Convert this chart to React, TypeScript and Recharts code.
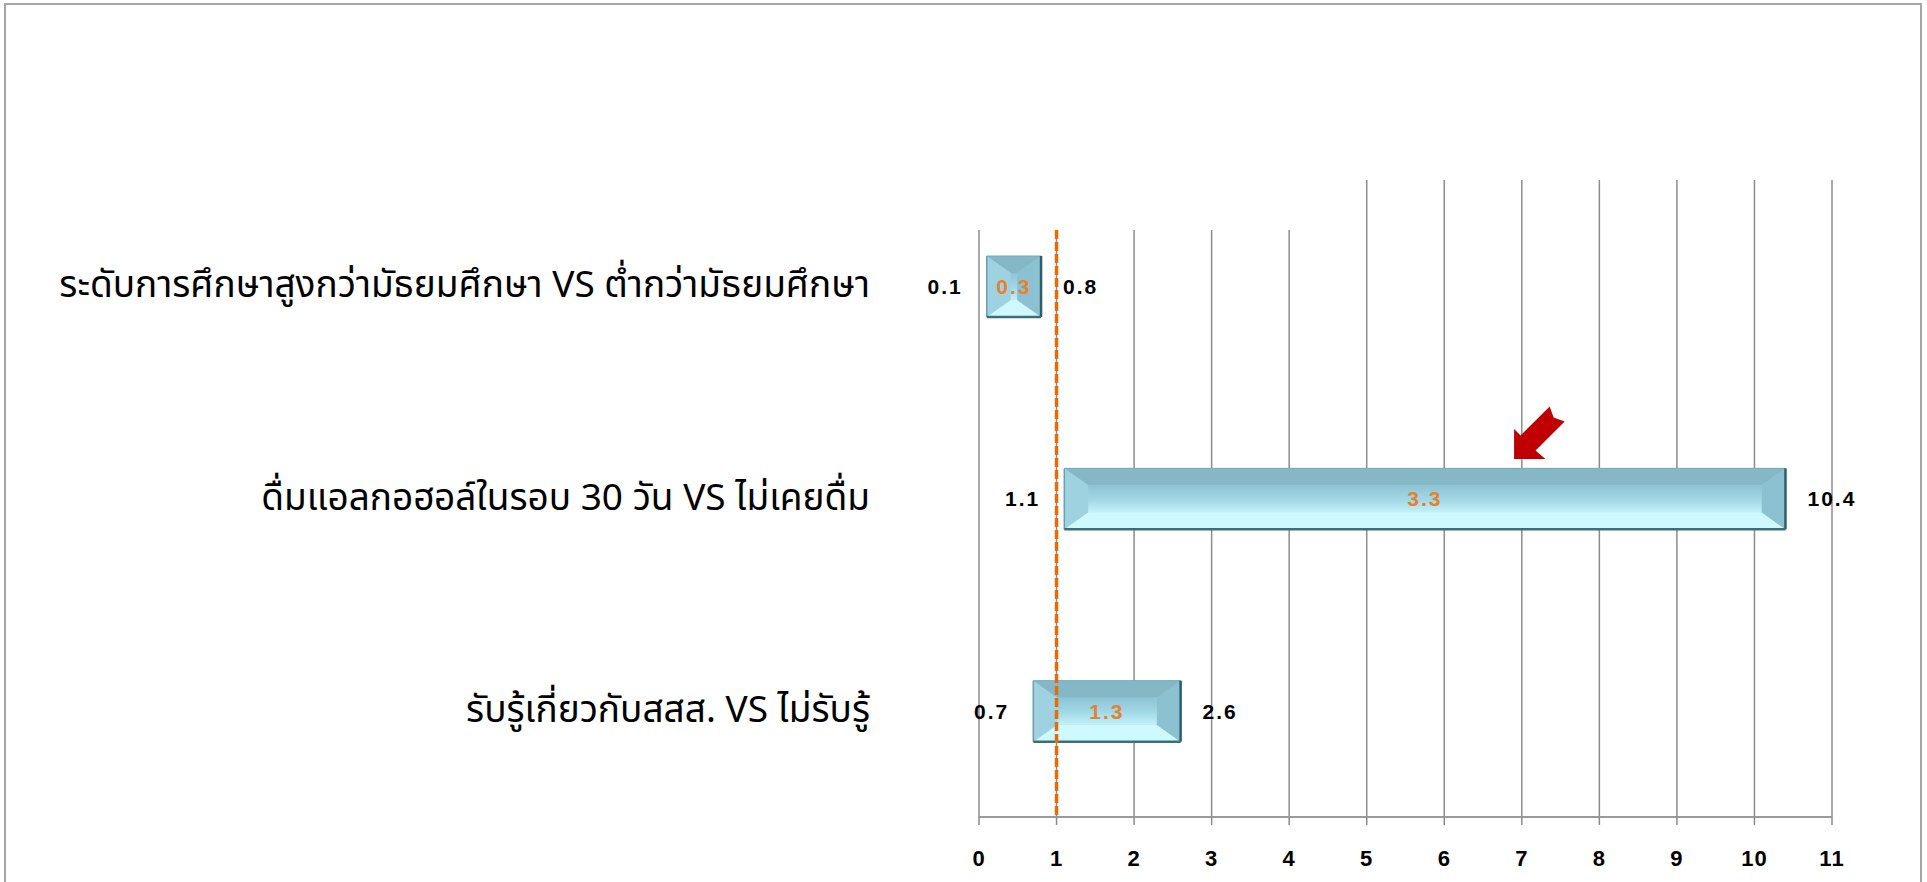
import React from 'react';
import {
  BarChart,
  Bar,
  XAxis,
  YAxis,
  CartesianGrid,
  ReferenceLine,
  ReferenceDot,
  LabelList,
} from 'recharts';

// Comparison groups (top to bottom)
const categories = [
  'ระดับการศึกษาสูงกว่ามัธยมศึกษา VS ต่ำกว่ามัธยมศึกษา',
  'ดื่มแอลกอฮอล์ในรอบ 30 วัน VS ไม่เคยดื่ม',
  'รับรู้เกี่ยวกับสสส. VS ไม่รับรู้',
];

// Odds ratio with lower / upper confidence bounds
const lowerBound = [0.1, 1.1, 0.7];
const oddsRatio = [0.3, 3.3, 1.3];
const upperBound = [0.8, 10.4, 2.6];

// Axis ticks
const xTicks = [0, 1, 2, 3, 4, 5, 6, 7, 8, 9, 10, 11];

// Reference (no effect) value and the highlighted group's arrow position
const REFERENCE_VALUE = 1;
const ARROW_VALUE = 6.9;
const ARROW_CATEGORY = categories[1];

const data = categories.map((name, i) => ({
  name,
  range: [lowerBound[i], upperBound[i]],
  lo: lowerBound[i],
  or: oddsRatio[i],
  hi: upperBound[i],
}));

const WIDTH = 1927;
const HEIGHT = 882;
const BAR_SIZE = 61;
const SHORT_LINE_INSET = 50; // first gridlines and reference line start lower
const NUM_FONT = '"Liberation Sans", Arial, Helvetica, sans-serif';
const THAI_FONT = '"Noto Sans Thai", "Noto Sans", "DejaVu Sans", Tahoma, sans-serif';

const BevelBar = (props: any) => {
  const { x, y, width, height, index } = props;
  if (width == null || height == null || width <= 0) return null;
  const w = width;
  const h = height;
  const i = Math.min(w / 2, 24);
  const iv = Math.min(h / 2, 17);
  const gid = `bevel-face-${index}`;
  return (
    <g>
      <defs>
        <linearGradient id={gid} x1="0" y1="0" x2="0" y2="1">
          <stop offset="0%" stopColor="#8ec3d3" />
          <stop offset="55%" stopColor="#a3d9e7" />
          <stop offset="100%" stopColor="#c2f1f9" />
        </linearGradient>
      </defs>
      <rect x={x} y={y} width={w} height={h} fill={`url(#${gid})`} />
      {/* top bevel */}
      <polygon
        points={`${x},${y} ${x + w},${y} ${x + w - i},${y + iv} ${x + i},${y + iv}`}
        fill="#84b8c7"
      />
      {/* bottom bevel */}
      <polygon
        points={`${x},${y + h} ${x + w},${y + h} ${x + w - i},${y + h - iv} ${x + i},${y + h - iv}`}
        fill="#cefaff"
      />
      {/* left bevel */}
      <polygon
        points={`${x},${y} ${x + i},${y + iv} ${x + i},${y + h - iv} ${x},${y + h}`}
        fill="#9fd2e0"
      />
      {/* right bevel */}
      <polygon
        points={`${x + w},${y} ${x + w - i},${y + iv} ${x + w - i},${y + h - iv} ${x + w},${y + h}`}
        fill="#8cc1d1"
      />
      {/* inner face */}
      <rect x={x + i} y={y + iv} width={Math.max(0, w - 2 * i)} height={Math.max(0, h - 2 * iv)} fill={`url(#${gid})`} />
      {/* edges */}
      <line x1={x} y1={y} x2={x + w} y2={y} stroke="#78aaba" strokeWidth={1} />
      <line x1={x} y1={y} x2={x} y2={y + h} stroke="#6c9fae" strokeWidth={1.5} />
      <line x1={x + w} y1={y} x2={x + w} y2={y + h} stroke="#2f5d6b" strokeWidth={2.5} />
      <line x1={x} y1={y + h} x2={x + w} y2={y + h} stroke="#3c6e7c" strokeWidth={2.5} />
    </g>
  );
};

const ValueLabels = (props: any) => {
  const { x, y, width, height, index } = props;
  const d = data[index];
  if (!d) return null;
  const cy = y + height / 2;
  const common = {
    fontFamily: NUM_FONT,
    fontWeight: 700 as const,
    fontSize: 21,
    letterSpacing: 2,
    dominantBaseline: 'central' as const,
  };
  return (
    <g>
      <text x={x - 24} y={cy} textAnchor="end" fill="#000" {...common}>
        {d.lo}
      </text>
      <text x={x + width / 2} y={cy} textAnchor="middle" fill="#e3822f" {...common}>
        {d.or}
      </text>
      <text x={x + width + 22} y={cy} textAnchor="start" fill="#000" {...common}>
        {d.hi}
      </text>
    </g>
  );
};

const CategoryTick = (props: any) => {
  const { x, y, payload } = props;
  return (
    <text
      x={x}
      y={y}
      textAnchor="end"
      dominantBaseline="central"
      fill="#000"
      fontFamily={THAI_FONT}
      fontSize={37}
    >
      {payload.value}
    </text>
  );
};

const GridLine = (props: any) => {
  const { x1, y1, x2, y2, index } = props;
  const top = Math.min(y1, y2);
  const bottom = Math.max(y1, y2);
  const start = index < 5 ? top + SHORT_LINE_INSET : top;
  return <line x1={x1} y1={start} x2={x2} y2={bottom} stroke="#8c8c8c" strokeWidth={1.5} />;
};

const DashedReference = (props: any) => {
  const { x1, y1, x2, y2 } = props;
  const top = Math.min(y1, y2) + SHORT_LINE_INSET;
  const bottom = Math.max(y1, y2);
  return (
    <line
      x1={x1}
      y1={top}
      x2={x2}
      y2={bottom}
      stroke="#e46c0a"
      strokeWidth={3.5}
      strokeDasharray="9 3"
    />
  );
};

const Arrow = (props: any) => {
  const { cx, cy } = props;
  if (cx == null || cy == null) return null;
  const tx = cx;
  const ty = cy - BAR_SIZE / 2 - 9;
  const pts = [
    [0, 0],
    [0, -30],
    [6.5, -23.5],
    [35.6, -52.6],
    [39.6, -41.6],
    [50.6, -37.6],
    [21.5, -8.5],
    [31.3, 0],
  ]
    .map(([dx, dy]) => `${tx + dx},${ty + dy}`)
    .join(' ');
  return <polygon points={pts} fill="#c00000" />;
};

export default function App() {
  return (
    <div
      style={{
        position: 'absolute',
        left: 0,
        top: 0,
        width: WIDTH,
        height: HEIGHT,
        background: '#fff',
        overflow: 'hidden',
      }}
    >
      <div
        style={{
          position: 'absolute',
          left: 4,
          top: 3,
          width: 1918,
          height: 920,
          boxSizing: 'border-box',
          border: '2px solid #a6a6a6',
        }}
      />
      <div style={{ position: 'absolute', left: 0, top: 0 }}>
        <BarChart
          width={WIDTH}
          height={HEIGHT}
          data={data}
          layout="vertical"
          margin={{ top: 180, right: 95, bottom: 5, left: 0 }}
          barCategoryGap={0}
        >
          <CartesianGrid horizontal={false} vertical={GridLine} />
          <XAxis
            type="number"
            domain={[0, 11]}
            ticks={xTicks}
            interval={0}
            allowDataOverflow
            height={60}
            axisLine={{ stroke: '#9a9a9a', strokeWidth: 2 }}
            tickLine={{ stroke: '#8a8a8a', strokeWidth: 1.5 }}
            tickSize={8}
            tickMargin={25}
            tick={{ fill: '#000', fontSize: 22, fontWeight: 700, fontFamily: NUM_FONT, letterSpacing: 1 }}
          />
          <YAxis
            type="category"
            dataKey="name"
            width={979}
            axisLine={false}
            tickLine={false}
            tickSize={6}
            tickMargin={103}
            tick={<CategoryTick />}
          />
          <Bar
            dataKey="range"
            barSize={BAR_SIZE}
            shape={<BevelBar />}
            isAnimationActive={false}
          >
            <LabelList dataKey="or" content={<ValueLabels />} />
          </Bar>
          <ReferenceLine
            x={REFERENCE_VALUE}
            ifOverflow="visible"
            shape={<DashedReference />}
          />
          <ReferenceDot
            x={ARROW_VALUE}
            y={ARROW_CATEGORY}
            ifOverflow="visible"
            shape={<Arrow />}
          />
        </BarChart>
      </div>
    </div>
  );
}
